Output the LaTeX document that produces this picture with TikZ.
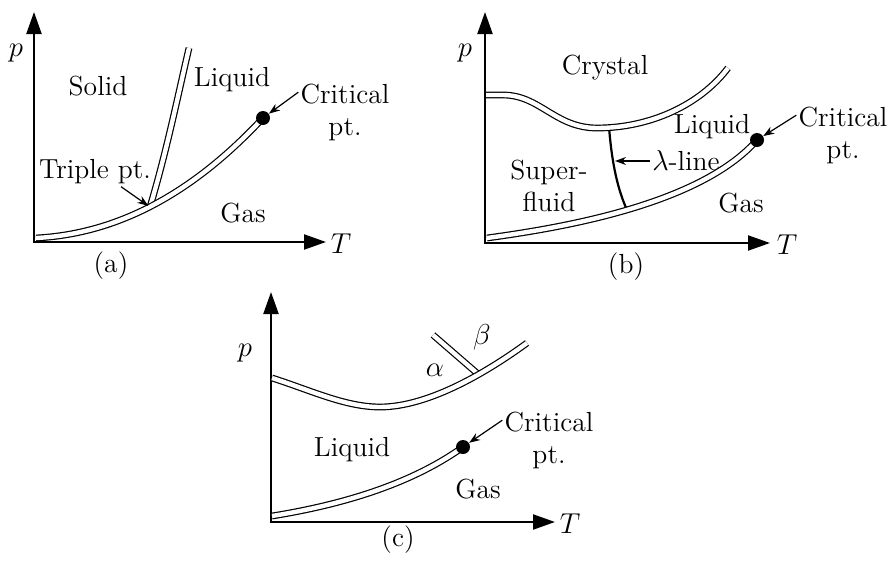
\documentclass[tikz,border=0pt]{standalone}
\usepackage{amsmath}
\usepackage{tikz}
\usetikzlibrary{arrows.meta}
\tikzset{
    axis/.style={line width=1.1pt, {Triangle[length=11pt,width=7.5pt]}-{Triangle[length=11pt,width=7.5pt]}},
    phase/.style={line width=0.6pt, double, double distance=2.2pt},
    pointer/.style={line width=0.6pt, -{Stealth[length=5.5pt,width=4pt]}},
    crit/.style={circle, fill=black, inner sep=0pt, minimum size=7pt},
    region/.style={font=\fontsize{13.8}{16}\selectfont, inner sep=1pt, align=center}
}

\begin{document}
\begin{tikzpicture}[x=0.5pt, y=-0.5pt, every node/.style={region}]
    \useasboundingbox (0,0) rectangle (888,562);

    % (a)
    \coordinate (Ya) at (34,12);
    \coordinate (Oa) at (34,242);
    \coordinate (Xa) at (326,242);
    \coordinate (ca) at (263,118);
    \coordinate (tpa) at (150,207);
    \draw[axis] (Ya) -- (Oa) -- (Xa);
    \draw[phase] (tpa) .. controls (167,150) and (178,95) .. (189,48);
    \draw[phase] (36,238) .. controls (135,233) and (210,175) .. (ca);
    \node[crit] (cpa) at (ca) {};
    \node (pa) at (16,53) {$p$};
    \node (Ta) at (341,244) {$T$};
    \node (solid) at (98,86) {Solid};
    \node (liqa) at (232,80) {Liquid};
    \node (gasa) at (243,213) {Gas};
    \node (tpl) at (95,172) {Triple pt.};
    \node (cla) at (345,112) {Critical\\pt.};
    \node (capa) at (111,266) {(a)};
    \draw[pointer, shorten >=1pt] ([xshift=13pt]tpl.south) -- (tpa);
    \draw[pointer] ([yshift=-5.5pt]cla.north west) -- (cpa);

    % (b)
    \coordinate (Yb) at (485,12);
    \coordinate (Ob) at (485,243);
    \coordinate (Xb) at (770,243);
    \coordinate (cb) at (757,140);
    \coordinate (lt) at (609,127);
    \coordinate (lb) at (627,210);
    \coordinate (lm) at (615,161);
    \draw[axis] (Yb) -- (Ob) -- (Xb);
    \draw[line width=1.1pt] (lt) .. controls (612,165) and (618,190) .. (lb);
    \draw[phase] (486,95) -- (503,95) .. controls (540,95) and (555,128) .. (597,128)
        .. controls (650,128) and (700,105) .. (728,68);
    \draw[phase] (487,238) .. controls (560,228) and (700,205) .. (cb);
    \node[crit] (cpb) at (cb) {};
    \node (pb) at (465,53) {$p$};
    \node (Tb) at (787,245) {$T$};
    \node (cryst) at (605,68) {Crystal};
    \node (liqb) at (712,127) {Liquid};
    \node (sf) at (549,186) {Super-\\fluid};
    \node (lam) at (686,161) {$\lambda$-line};
    \node (gasb) at (741,203) {Gas};
    \node (clb) at (843,135) {Critical\\pt.};
    \node (capb) at (626,267) {(b)};
    \draw[pointer] (lam.west) -- (lm);
    \draw[pointer] ([yshift=-5.5pt]clb.north west) -- (cpb);

    % (c)
    \coordinate (Yc) at (271,292);
    \coordinate (Oc) at (271,522);
    \coordinate (Xc) at (555,522);
    \coordinate (cc) at (463,447);
    \coordinate (ab) at (478,374);
    \draw[axis] (Yc) -- (Oc) -- (Xc);
    \draw[phase] (433,335) -- (ab);
    \draw[phase] (272,378) .. controls (310,390) and (345,407) .. (380,407)
        .. controls (430,407) and (490,370) .. (527,343);
    \draw[phase] (272,516) .. controls (340,505) and (410,485) .. (cc);
    \node[crit] (cpc) at (cc) {};
    \node (pc) at (245,353) {$p$};
    \node (Tc) at (570,524) {$T$};
    \node (al) at (435,370) {$\alpha$};
    \node (be) at (482,337) {$\beta$};
    \node (liqc) at (352,450) {Liquid};
    \node (gasc) at (478,489) {Gas};
    \node (clc) at (549,440) {Critical\\pt.};
    \node (capc) at (398,540) {(c)};
    \draw[pointer] ([yshift=-5.5pt]clc.north west) -- (cpc);
\end{tikzpicture}
\end{document}
